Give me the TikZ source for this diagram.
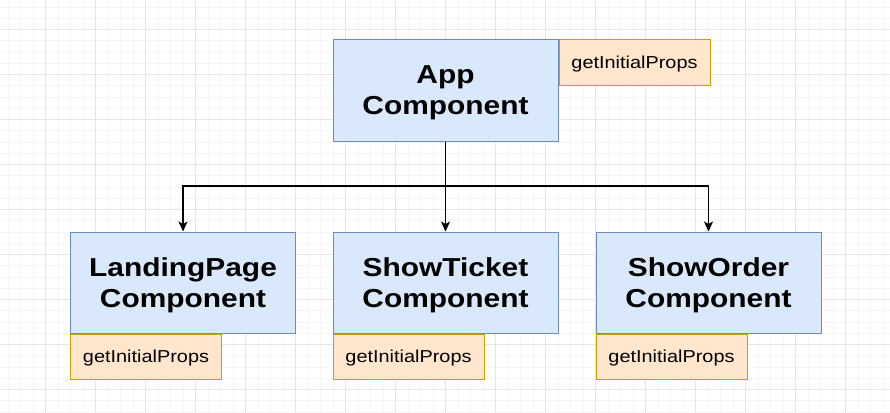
\documentclass[tikz,border=0pt]{standalone}
\usepackage{fontspec}
\setmainfont{Liberation Sans}[FakeStretch=1.15]
\usetikzlibrary{positioning,arrows.meta}
\definecolor{compfill}{HTML}{DAE8FC}
\definecolor{compline}{HTML}{6C8EBF}
\definecolor{propfill}{HTML}{FFE6CC}
\definecolor{propline}{HTML}{D79B00}
\definecolor{gridmajor}{HTML}{E6E6E6}
\definecolor{gridminor}{HTML}{F6F6F6}
\tikzset{>={Stealth[length=10,width=9,inset=2.5]}}
\tikzset{comp/.style={draw=compline, fill=compfill, line width=1pt, minimum width=225, minimum height=101, align=center, text depth=0pt, font=\fontsize{26}{31}\selectfont\bfseries}}
\tikzset{props/.style={draw=propline, fill=propfill, line width=1pt, minimum width=151, minimum height=45, text height=12.3, text depth=0pt, font=\fontsize{17.3}{20}\selectfont}}

\begin{document}
\begin{tikzpicture}[x=1pt,y=-1pt]
      \useasboundingbox (0,0) rectangle (890,412);
      \fill[white] (0,0) rectangle (890,412);
      % background grid
      \foreach \x in {-4.3,8.2,...,890} \draw[gridminor,line width=0.8] (\x,0) -- (\x,412);
      \foreach \y in {7,18.25,...,412} \draw[gridminor,line width=0.8] (0,\y) -- (890,\y);
      \foreach \x in {45.7,95.7,...,890} \draw[gridmajor,line width=1] (\x,0) -- (\x,412);
      \foreach \y in {29.5,74.5,...,412} \draw[gridmajor,line width=1] (0,\y) -- (890,\y);
      % components
      \node[comp] (app) at (445.5,90.5) {App\\Component};
      \node[props,anchor=north west] (appprops) at (app.north east) {getInitialProps};
      \node[comp] (landing) at (183,282.5) {LandingPage\\Component};
      \node[props,anchor=north west] (landingprops) at (landing.south west) {getInitialProps};
      \node[comp] (ticket) at (445.5,282.5) {ShowTicket\\Component};
      \node[props,anchor=north west] (ticketprops) at (ticket.south west) {getInitialProps};
      \node[comp] (order) at (708.5,282.5) {ShowOrder\\Component};
      \node[props,anchor=north west] (orderprops) at (order.south west) {getInitialProps};
      % connectors
      \coordinate (split) at (445.5,186);
      \draw[line width=1.5] (app.south) -- (split);
      \draw[->,line width=1.5] (split) -| (landing.north);
      \draw[->,line width=1.5] (split) -- (ticket.north);
      \draw[->,line width=1.5] (split) -| (order.north);
\end{tikzpicture}
\end{document}
